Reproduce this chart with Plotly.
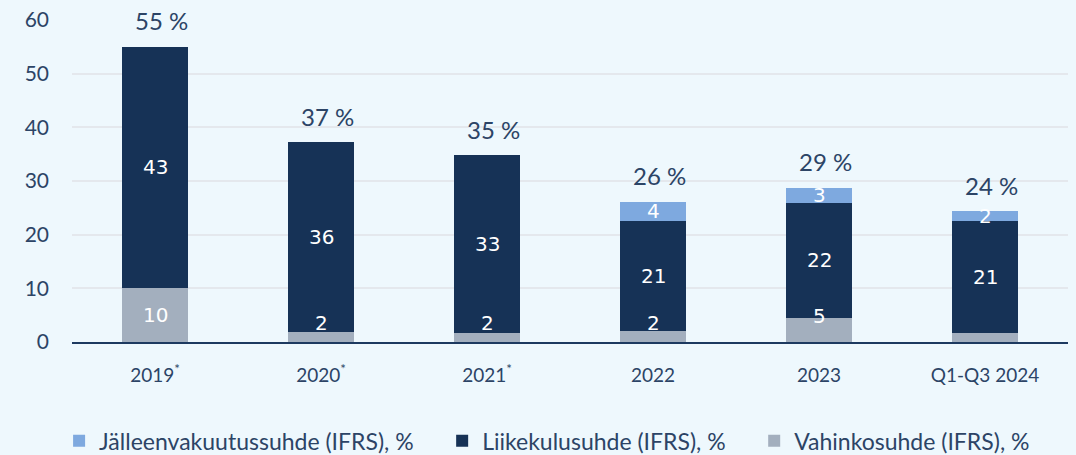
import plotly.graph_objects as go

categories = ["2019<sup>*</sup>", "2020<sup>*</sup>", "2021<sup>*</sup>", "2022", "2023", "Q1-Q3 2024"]
vahinko = [10.1, 1.9, 1.7, 2.0, 4.5, 1.6]
liikekulu = [44.9, 35.3, 33.1, 20.6, 21.4, 21.0]
jalleen = [0, 0, 0, 3.5, 2.8, 1.8]
vahinko_lbl = ["10", "2", "2", "2", "5", ""]
liikekulu_lbl = ["43", "36", "33", "21", "22", "21"]
jalleen_lbl = ["", "", "", "4", "3", "2"]
total_lbl = ["55 %", "37 %", "35 %", "26 %", "29 %", "24 %"]
names = ["Jälleenvakuutussuhde (IFRS), %", "Liikekulusuhde (IFRS), %", "Vahinkosuhde (IFRS), %"]

C_J = "#7ea9df"
C_L = "#163256"
C_V = "#a3afbe"
TXT = "#2c4466"
FONT = "Lato"
PAD = "\u00a0\u00a0\u00a0\u00a0"

fig = go.Figure()
fig.add_bar(x=categories, y=vahinko, name=names[2], marker_color=C_V, width=0.4,
            marker_line_width=0, legendrank=3)
fig.add_bar(x=categories, y=liikekulu, name=names[1] + PAD, marker_color=C_L, width=0.4,
            marker_line_width=0, legendrank=2)
fig.add_bar(x=categories, y=jalleen, name=names[0] + PAD, marker_color=C_J, width=0.4,
            marker_line_width=0, legendrank=1)

lblfont = dict(family="DejaVu Sans", size=20, color="white")
for i in range(len(categories)):
    v, l, j = vahinko[i], liikekulu[i], jalleen[i]
    if vahinko_lbl[i]:
        yv = v / 2 if v > 8 else v / 2 + 2.6
        fig.add_annotation(x=i, y=yv, text=vahinko_lbl[i], showarrow=False, font=lblfont)
    fig.add_annotation(x=i, y=v + l / 2, text=liikekulu_lbl[i], showarrow=False, font=lblfont)
    if jalleen_lbl[i]:
        fig.add_annotation(x=i, y=v + l + j / 2, text=jalleen_lbl[i], showarrow=False, font=lblfont)
    fig.add_annotation(x=i, y=v + l + j, text=total_lbl[i], showarrow=False, yshift=26, xshift=6,
                       font=dict(family=FONT, size=24, color=TXT))

fig.update_layout(
    barmode="stack",
    width=1076, height=455,
    margin=dict(l=72, r=8, t=20, b=113, autoexpand=False),
    paper_bgcolor="#eef8fd",
    plot_bgcolor="#eef8fd",
    font=dict(family=FONT, color=TXT),
    legend=dict(orientation="h", x=0.477, xanchor="center", y=-0.307, yanchor="middle",
                font=dict(family=FONT, size=23, color=TXT), traceorder="normal",
                itemwidth=30, tracegroupgap=0),
    showlegend=True,
)
fig.update_yaxes(range=[0, 60], dtick=10, showgrid=True, gridcolor="#e4e8ed", gridwidth=2,
                 zeroline=False, showline=False, tickfont=dict(family=FONT, size=21, color=TXT),
                 ticklabelstandoff=22, fixedrange=True)
fig.update_xaxes(type="category", range=[-0.5, 5.5], showline=True, linecolor="#1d3a60",
                 linewidth=2, showgrid=False,
                 tickfont=dict(family=FONT, size=19, color=TXT), ticklabelstandoff=15,
                 fixedrange=True)

fig.write_html("out.html", config={"displayModeBar": False},
               post_script="document.body.style.margin='0';")
